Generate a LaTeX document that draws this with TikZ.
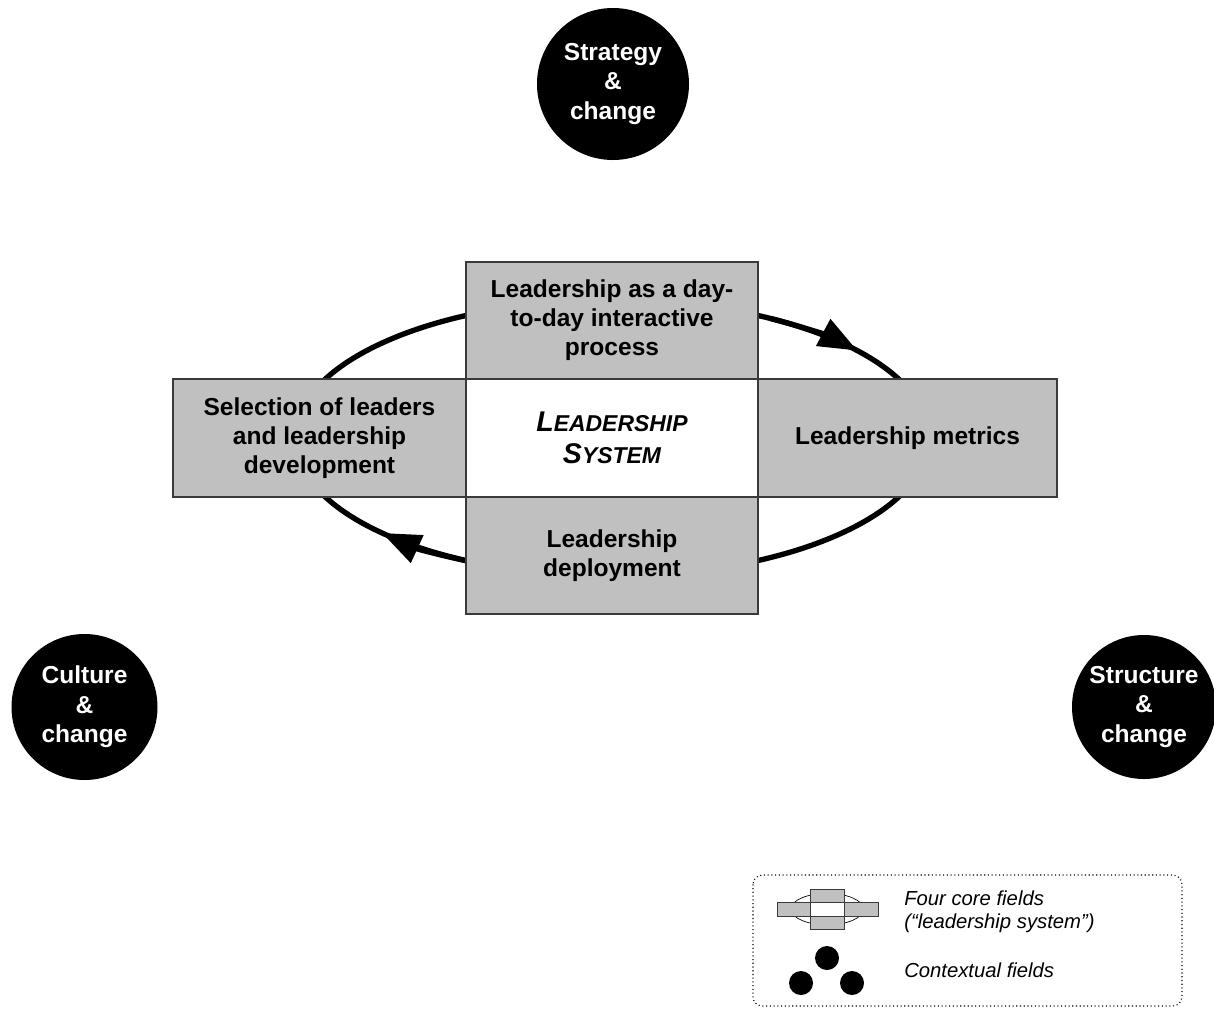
\documentclass[tikz,border=0pt]{standalone}
\usepackage{fontspec}
\setmainfont{Liberation Sans}
\usetikzlibrary{arrows.meta}
\definecolor{fieldgray}{HTML}{C0C0C0}
\definecolor{edgegray}{HTML}{3A3A3A}
\newcommand\fakesc[2]{{\fontsize{21.4}{24}\selectfont #1}{\fontsize{17.2}{24}\selectfont #2}}
\begin{document}
\begin{tikzpicture}[x=0.75pt,y=-0.75pt,
  field/.style={draw=edgegray, line width=1pt, fill=fieldgray, inner sep=0pt,
    align=center, font=\fontsize{18.4}{21.75}\selectfont\bfseries},
  corefield/.style={field, fill=white, font=\fontsize{17.2}{24}\selectfont\bfseries\itshape},
  context/.style={circle, fill=black, inner sep=0pt, text=white, align=center,
    font=\fontsize{18.4}{22}\selectfont\bfseries},
  cycle/.style={line width=4pt, draw=black},
  cyclearrow/.style={cycle, -{Triangle[length=29pt, width=22pt]}},
  legendtext/.style={anchor=base west, inner sep=0pt, font=\fontsize{15.2}{18}\selectfont\itshape},
  iconline/.style={draw=edgegray, line width=0.5pt}
]
\useasboundingbox (0,0) rectangle (1214,1008);

% the cycle around the four core fields
\coordinate (c) at (612,438);
\draw[cycle] (c) ellipse[x radius=317, y radius=138];
\draw[cyclearrow] (c) ++(-60:317 and 138) arc[start angle=-60, end angle=-39.3, x radius=317, y radius=138];
\draw[cyclearrow] (c) ++(110:317 and 138) arc[start angle=110, end angle=136.5, x radius=317, y radius=138];

% four core fields and the leadership system in the middle
\node[field, minimum width=219pt, minimum height=87.75pt] (top) at (612,320.5)
  {Leadership as a day-\\to-day interactive\\process};
\node[corefield, minimum width=219pt, minimum height=88.5pt] (core) at (612,438)
  {\fakesc{L}{EADERSHIP}\\\fakesc{S}{YSTEM}};
\node[field, minimum width=219.75pt, minimum height=88.5pt] (left) at (319.5,438)
  {Selection of leaders\\and leadership\\development};
\node[field, minimum width=224.25pt, minimum height=88.5pt] (right) at (907.5,438)
  {Leadership metrics};
\node[field, minimum width=219pt, minimum height=87.75pt] (bottom) at (612,555.5)
  {Leadership\\deployment};

% contextual fields
\node[context, minimum size=114pt] (strategy) at (613,84) {Strategy\\\&\\change};
\node[context, minimum size=109.5pt] (culture) at (84.5,707) {Culture\\\&\\change};
\node[context, minimum size=108pt] (structure) at (1144,707) {Structure\\\&\\change};

% legend
\draw[dotted, line width=0.8pt, rounded corners=7pt] (753,875) rectangle (1182,1006);
\begin{scope}[shift={(777,889)}, scale=0.11425, shift={(-173,-262)}]
  \draw[line width=0.5pt] (612,438) ellipse[x radius=317, y radius=138];
  \filldraw[iconline, fill=fieldgray] (466,262) rectangle (758,379);
  \filldraw[iconline, fill=fieldgray] (173,379) rectangle (1057,497);
  \filldraw[iconline, fill=white] (466,379) rectangle (758,497);
  \filldraw[iconline, fill=fieldgray] (466,497) rectangle (758,614);
\end{scope}
\fill (827,958) circle[radius=12];
\fill (801,983) circle[radius=12];
\fill (852,983) circle[radius=12];
\node[legendtext] (corelabel) at (904,905) {Four core fields};
\node[legendtext] (corelabel2) at (904,928.5) {(“leadership system”)};
\node[legendtext] (contextlabel) at (904,977) {Contextual fields};
\end{tikzpicture}
\end{document}
